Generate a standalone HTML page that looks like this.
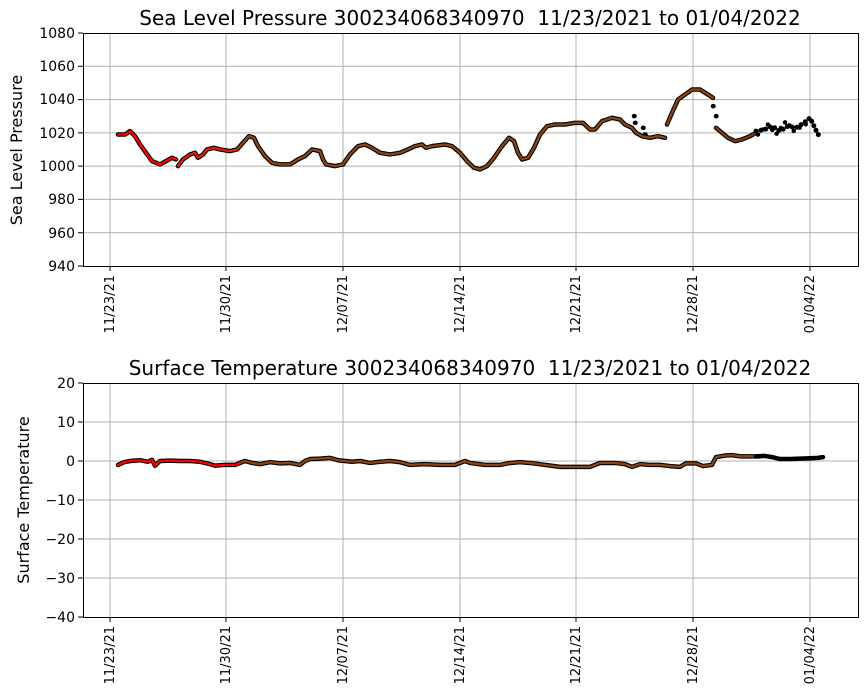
<!DOCTYPE html><html><head><style>body{margin:0;background:#fff}svg{display:block}text{font-family:"DejaVu Sans","Liberation Sans",sans-serif;fill:#000}</style></head><body>
<svg width="867" height="700" xmlns="http://www.w3.org/2000/svg">
<g stroke="#b0b0b0" stroke-width="1">
<path d="M110 33V266M226 33V266M343 33V266M460 33V266M576 33V266M693 33V266M810 33V266"/>
<path d="M83 66.3H858M83 99.6H858M83 132.9H858M83 166.1H858M83 199.4H858M83 232.7H858"/>
<path d="M110 383V617M226 383V617M343 383V617M460 383V617M576 383V617M693 383V617M810 383V617"/>
<path d="M83 422H858M83 461H858M83 500H858M83 539H858M83 578H858"/>
</g>
<g fill="none" stroke-linejoin="round" stroke-linecap="round">
<g transform="matrix(1 0 0 -1.6643 0 1830.4)">
<polyline vector-effect="non-scaling-stroke" stroke="#000" stroke-width="4.5" points="118,1019 125,1019 130,1021 135,1018 140,1013 146,1008 152,1003 160,1001 166,1003 172,1005 176,1004"/>
<polyline vector-effect="non-scaling-stroke" stroke="#000" stroke-width="4.5" points="178,1000 183,1004 190,1007 195,1008 198,1005 203,1007 207,1010 214,1011 220,1010 230,1009 237,1010 243,1014 249,1018 254,1017 258,1012 265,1006 272,1002 280,1001 290,1001 298,1004 305,1006 312,1010 320,1009 323,1004 326,1001 335,1000 343,1001 350,1007 358,1012 365,1013 372,1011 380,1008 390,1007 400,1008 408,1010 415,1012 422,1013 426,1011 432,1012 445,1013 452,1012 460,1008 467,1003 474,999 480,998 487,1000 494,1005 502,1012 509,1017 514,1015 518,1008 522,1004 528,1005 534,1011 540,1019 547,1024 555,1025 565,1025 575,1026 583,1026 590,1022 595,1022 602,1027 612,1029 620,1028 625,1025 632,1023 636,1020 642,1018 650,1017 658,1018 665,1017"/>
<polyline vector-effect="non-scaling-stroke" stroke="#000" stroke-width="4.5" points="667,1025 672,1032 678,1040 685,1043 692,1046 700,1046 708,1043 713,1041"/>
<polyline vector-effect="non-scaling-stroke" stroke="#000" stroke-width="4.5" points="716,1023 722,1020 728,1017 735,1015 742,1016 750,1018 756,1020"/>
<g stroke="#000" stroke-width="4.5">
<polyline vector-effect="non-scaling-stroke" points="634,1030 634.5,1030"/>
<polyline vector-effect="non-scaling-stroke" points="635,1026 635.5,1026"/>
<polyline vector-effect="non-scaling-stroke" points="643,1023 643.5,1023"/>
<polyline vector-effect="non-scaling-stroke" points="645,1019 645.5,1019"/>
<polyline vector-effect="non-scaling-stroke" points="713,1036 713.5,1036"/>
<polyline vector-effect="non-scaling-stroke" points="716,1030 716.5,1030"/>
</g>
<polyline vector-effect="non-scaling-stroke" stroke="#f00" stroke-width="2.3" points="118,1019 125,1019 130,1021 135,1018 140,1013 146,1008 152,1003 160,1001 166,1003 172,1005 176,1004"/>
<polyline vector-effect="non-scaling-stroke" stroke="#e0200a" stroke-width="2.3" points="178,1000 183,1004 190,1007 195,1008 198,1005 203,1007 207,1010 214,1011 220,1010 230,1009 237,1010"/>
<polyline vector-effect="non-scaling-stroke" stroke="#8b4513" stroke-width="2.3" points="237,1010 243,1014 249,1018 254,1017 258,1012 265,1006 272,1002 280,1001 290,1001 298,1004 305,1006 312,1010 320,1009 323,1004 326,1001 335,1000 343,1001 350,1007 358,1012 365,1013 372,1011 380,1008 390,1007 400,1008 408,1010 415,1012 422,1013 426,1011 432,1012 445,1013 452,1012 460,1008 467,1003 474,999 480,998 487,1000 494,1005 502,1012 509,1017 514,1015 518,1008 522,1004 528,1005 534,1011 540,1019 547,1024 555,1025 565,1025 575,1026 583,1026 590,1022 595,1022 602,1027 612,1029 620,1028 625,1025 632,1023 636,1020 642,1018 650,1017 658,1018 665,1017"/>
<polyline vector-effect="non-scaling-stroke" stroke="#8b4513" stroke-width="2.3" points="667,1025 672,1032 678,1040 685,1043 692,1046 700,1046 708,1043 713,1041"/>
<polyline vector-effect="non-scaling-stroke" stroke="#7a3c10" stroke-width="2.3" points="716,1023 722,1020 728,1017 735,1015 742,1016 750,1018 756,1020"/>
<polyline vector-effect="non-scaling-stroke" stroke="#000" stroke-width="5" stroke-dasharray="0 5" points="756,1021 765,1022 772,1024 780,1021 788,1024 796,1023 804,1026 810,1029 814,1024 818,1019 823,1018"/>
<polyline vector-effect="non-scaling-stroke" stroke="#000" stroke-width="4.5" stroke-dasharray="0 7" points="758,1019 768,1025 776,1019 786,1027 794,1021 802,1024 812,1027"/>
</g>
<g transform="matrix(1 0 0 -3.9 0 461)">
<polyline vector-effect="non-scaling-stroke" stroke="#000" stroke-width="4.5" points="118,-1 124,-0.3 130,0 140,0.2 148,-0.2 152,0.3 155,-1.2 160,0 170,0.1 180,0 190,0 200,-0.2 210,-0.8 215,-1.2 225,-1 235,-1 245,0 252,-0.5 260,-0.8 270,-0.3 280,-0.6 290,-0.5 300,-1 305,0 310,0.5 320,0.6 330,0.8 338,0.2 345,0 352,-0.2 360,0 370,-0.5 380,-0.2 390,0 400,-0.3 410,-1 425,-0.8 440,-1 455,-1 465,0 470,-0.5 485,-1 500,-1 510,-0.5 520,-0.3 530,-0.5 545,-1 560,-1.5 575,-1.5 590,-1.5 600,-0.5 615,-0.5 625,-0.8 632,-1.5 640,-0.8 650,-1 660,-1 670,-1.3 680,-1.5 686,-0.6 696,-0.6 703,-1.3 712,-1 716,1 725,1.4 732,1.5 740,1.2 750,1.2 760,1.2"/>
<polyline vector-effect="non-scaling-stroke" stroke="#f00" stroke-width="2.3" points="118,-1 124,-0.3 130,0 140,0.2 148,-0.2 152,0.3 155,-1.2 160,0 170,0.1 180,0 190,0 200,-0.2 210,-0.8 215,-1.2 225,-1 235,-1 240,-0.5"/>
<polyline vector-effect="non-scaling-stroke" stroke="#8b4513" stroke-width="2.3" points="240,-0.5 245,0 252,-0.5 260,-0.8 270,-0.3 280,-0.6 290,-0.5 300,-1 305,0 310,0.5 320,0.6 330,0.8 338,0.2 345,0 352,-0.2 360,0 370,-0.5 380,-0.2 390,0 400,-0.3 410,-1 425,-0.8 440,-1 455,-1 465,0 470,-0.5 485,-1 500,-1 510,-0.5 520,-0.3 530,-0.5 545,-1 560,-1.5 575,-1.5 590,-1.5 600,-0.5 615,-0.5 625,-0.8 632,-1.5 640,-0.8 650,-1 660,-1 670,-1.3 680,-1.5 686,-0.6 696,-0.6 703,-1.3 712,-1 716,1 725,1.4 732,1.5 740,1.2 750,1.2 756,1.2"/>
<polyline vector-effect="non-scaling-stroke" stroke="#000" stroke-width="4.5" points="756,1.2 765,1.3 772,1 780,0.5 790,0.5 800,0.6 810,0.7 818,0.8 823,1"/>
</g>
</g>
<g fill="none" stroke="#000" stroke-width="1">
<rect x="83.5" y="33.5" width="775" height="233"/>
<rect x="83.5" y="383.5" width="775" height="234"/>
<path d="M110 266v5M226 266v5M343 266v5M460 266v5M576 266v5M693 266v5M810 266v5M110 617v5M226 617v5M343 617v5M460 617v5M576 617v5M693 617v5M810 617v5M83 33h-5M83 66.3h-5M83 99.6h-5M83 132.9h-5M83 166.1h-5M83 199.4h-5M83 232.7h-5M83 266h-5M83 383h-5M83 422h-5M83 461h-5M83 500h-5M83 539h-5M83 578h-5M83 617h-5"/>
</g>
<g font-size="14" text-anchor="end">
<text x="75" y="38">1080</text><text x="75" y="71">1060</text><text x="75" y="104">1040</text><text x="75" y="138">1020</text><text x="75" y="171">1000</text><text x="75" y="204">980</text><text x="75" y="238">960</text><text x="75" y="271">940</text>
<text x="75" y="388">20</text><text x="75" y="427">10</text><text x="75" y="466">0</text><text x="75" y="505">−10</text><text x="75" y="544">−20</text><text x="75" y="583">−30</text><text x="75" y="622">−40</text>
</g>
<g font-size="13" text-anchor="end">
<text transform="translate(114,275) rotate(-90)">11/23/21</text><text transform="translate(230,275) rotate(-90)">11/30/21</text><text transform="translate(347,275) rotate(-90)">12/07/21</text><text transform="translate(464,275) rotate(-90)">12/14/21</text><text transform="translate(580,275) rotate(-90)">12/21/21</text><text transform="translate(697,275) rotate(-90)">12/28/21</text><text transform="translate(814,275) rotate(-90)">01/04/22</text>
<text transform="translate(114,626) rotate(-90)">11/23/21</text><text transform="translate(230,626) rotate(-90)">11/30/21</text><text transform="translate(347,626) rotate(-90)">12/07/21</text><text transform="translate(464,626) rotate(-90)">12/14/21</text><text transform="translate(580,626) rotate(-90)">12/21/21</text><text transform="translate(697,626) rotate(-90)">12/28/21</text><text transform="translate(814,626) rotate(-90)">01/04/22</text>
</g>
<g font-size="20" text-anchor="middle">
<text x="470" y="25" xml:space="preserve">Sea Level Pressure 300234068340970  11/23/2021 to 01/04/2022</text>
<text x="470" y="375" xml:space="preserve">Surface Temperature 300234068340970  11/23/2021 to 01/04/2022</text>
</g>
<g font-size="16" text-anchor="middle">
<text transform="translate(22,150) rotate(-90)">Sea Level Pressure</text>
<text transform="translate(29,500) rotate(-90)">Surface Temperature</text>
</g>
</svg></body></html>
